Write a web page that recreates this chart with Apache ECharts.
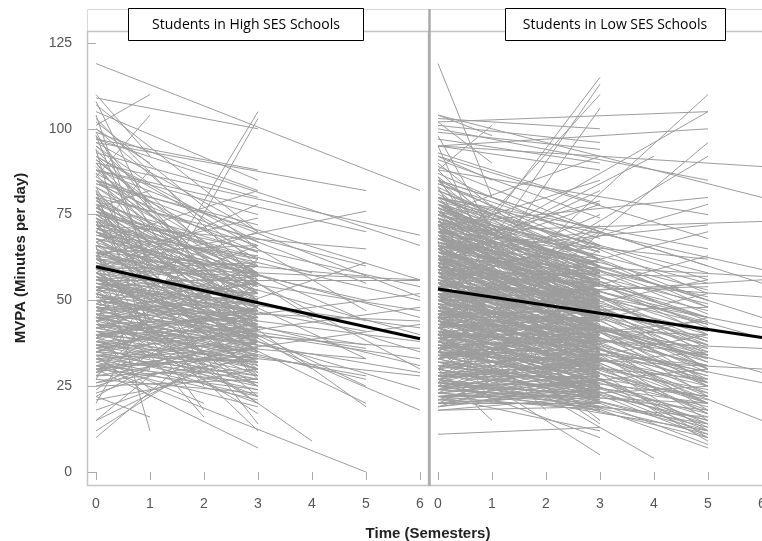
<!DOCTYPE html>
<html><head><meta charset="utf-8">
<script src="https://cdn.jsdelivr.net/npm/echarts@6/dist/echarts.min.js"></script>
<style>html,body{margin:0;padding:0;background:#fff}#c{width:762px;height:541px}</style>
</head><body><div id="c"></div>
<script>
const panelTitles = ['Students in High SES Schools', 'Students in Low SES Schools'];
const xTitle = 'Time (Semesters)';
const yTitle = 'MVPA (Minutes per day)';
const timeTicks = [0, 1, 2, 3, 4, 5, 6];
const mvpaTicks = [0, 25, 50, 75, 100, 125];

// Each pair: [MVPA at time 0, MVPA at last observed semester]
const highEnd1 = [[101,110],[86,104],[108,76],[98,60],[66,12],[25,30],[15,28],[70,88],[57,48],[90,70],[45,62],[80,53],[36,44],[62,71],[48,33],[110,92],[75,66],[52,58],[40,24],[95,84],
[104,58],[100,90],[94,40],[91,78],[87,66],[82,36],[77,82],[73,50],[68,60],[63,40],[58,66],[54,42],[49,55],[44,30],[39,50],[34,22],[29,42],[22,16]];
const highEnd2 = [[52,16],[78,40],[44,52],[92,62],[33,20],[60,18],[99,44],[83,30],[71,58],[64,25],[56,46],[38,30]];
const highEnd3 = [[27,105],[20,103],[109,100],[105,85],[97,88],[99,82],[93,80],[88,75],[84,72],[107,70],[92,67],[81,66],[78,64],[75,62],[73,60],[86,58],[71,57],[69,56],[68,55],[66,54],[64,53],[83,52],[62,51],[60,50],[59,49],[58,48],[57,47],[77,46],[56,46],[55,45],[54,44],[80,44],[53,43],[52,42],[51,41],[76,41],[50,40],[49,39],[72,39],[48,38],[47,37],[65,37],[46,36],[45,35],[70,35],[44,34],[43,33],[62,33],[42,32],[41,31],[58,30],[40,30],[39,29],[38,28],[67,28],[37,27],[36,26],[54,25],[35,25],[34,24],[60,22],[33,22],[32,21],[50,20],[31,19],[46,17],[74,14],[57,12],[30,7],[26,40],[22,48],[18,35],[24,55],[28,62],[21,30],[12,42],[10,50],[15,38],[44,60],[38,58],[42,56],[48,66],[53,70],[63,74],[58,78],[67,82],[74,54],[79,50],[85,47],[90,45],[95,52],[100,60],[103,56],[82,36],[78,31],[72,27],[68,44],[65,48],[61,43],[56,39],[55,52],[47,50],[43,45],[40,42],[36,40],[33,36],[30,34],[29,44],[35,48],[39,53],[46,30],[52,36],[57,32],[63,29],[71,49],[76,58],[84,64],[88,50],[94,42],[98,38],[64,66],[59,61],[54,57],[50,55],[45,47],[41,38],[37,33],[34,28],[31,26],[27,23],
[79,60],[77,52],[74,48],[72,58],[70,42],[69,63],[67,50],[65,40],[63,55],[61,46],[60,35],[59,57],[57,42],[56,60],[55,38],[53,50],[52,31],[51,47],[49,43],[48,28],[47,55],[46,40],[45,25],[44,50],[43,37],[42,45],[41,22],[40,35],[39,48],[38,40],[37,20],[36,45],[35,32],[34,38],[33,27],[32,42],[31,33],[30,24],[29,38],[28,30],[76,50],[73,45],[71,62],[68,38],[66,58],[64,43],[62,60],[58,52],[54,47],[50,45],[46,52],[43,30],[40,47],[37,43],[34,32],[31,40],[28,36],[26,33],[25,27],[23,38],[83,58],[87,62],[91,55],[96,70],[102,65],[89,40],[81,48],[77,56],[74,38],[70,52]];
const highEnd4 = [[53,9],[85,45],[66,30],[76,58]];
const highEnd5 = [[96,82],[60,76],[88,70],[72,65],[35,61],[80,60],[64,57],[92,47],[55,41],[70,33],[45,27],[58,20],[75,19],[31,0],[50,37],[42,28],
[68,50],[78,44],[48,36],[62,25],[40,33],[85,55]];
const highEnd6 = [[119,82],[90,69],[97,66],[56,56],[60,56],[75,54],[40,52],[88,51],[70,45],[30,43],[55,42],[50,38],[64,35],[47,33],[80,30],[45,29],[38,28],[52,24],[58,18],[66,40],[35,48],
[72,50],[62,47],[48,44],[85,56],[43,36],[54,31]];

const lowEnd1 = [[119,80],[30,15],[104,98],[95,60],[88,101],[72,40],[60,78],[45,20],[83,55],[50,64],[35,46],[67,30],[78,70],[26,38],[55,50],[41,26],
[102,90],[98,70],[92,85],[86,62],[80,75],[74,52],[68,66],[63,45],[57,58],[52,38],[46,50],[40,30],[33,40],[28,22],[23,30]];
const lowEnd2 = [[62,30],[48,18],[85,50],[36,56]];
const lowEnd3 = [[53,115],[45,113],[58,110],[40,106],[103,100],[101,96],[99,94],[97,90],[95,88],[75,92],[70,85],[93,78],[91,74],[89,70],[60,82],[65,79],[87,66],[85,62],[84,68],[82,64],[80,60],[79,58],[11,13],[35,5],[27,10],[22,12],
[78,56],[77,62],[76,50],[75,58],[74,52],[73,61],[72,48],[71,55],[70,60],[69,46],[68,53],[67,57],[66,44],[65,51],[64,59],[63,42],[62,49],[61,54],[60,40],[59,47],[58,52],[57,38],[56,45],[55,50],[54,36],[53,43],[52,48],[51,34],[50,41],[49,46],[48,32],[47,39],[46,44],[45,30],[44,37],[43,42],[42,28],[41,35],[40,40],[39,26],[38,33],[37,38],[36,24],[35,31],[34,36],[33,22],[32,29],[31,34],[30,20],[29,27],[28,32],[27,18],[26,25],[25,30],[24,21],[23,27],[22,24],[21,19],[20,23],[19,26],[18,22],
[79,66],[76,64],[74,45],[72,63],[70,43],[68,58],[66,39],[64,55],[62,37],[60,52],[58,35],[56,50],[54,33],[52,46],[50,31],[48,44],[46,29],[44,41],[42,27],[40,38],[38,25],[36,35],[34,23],[32,33],[30,22],[28,30],[26,20],[24,28],[22,18],[20,27],
[81,54],[78,44],[75,65],[73,40],[71,51],[69,62],[67,36],[65,47],[63,58],[61,32],[59,44],[57,55],[55,30],[53,41],[51,52],[49,28],[47,39],[45,48],[43,25],[41,36],[39,45],[37,23],[35,34],[33,42],[31,21],[29,31],[27,39],[25,19],[23,29],[21,35],
[35,65],[42,72],[30,60],[28,50],[25,55],[48,70],[55,75],[62,78],[85,45],[90,52],[88,40],[80,35],[77,30],[70,25],[66,20],[60,18],[52,15],[46,14],[44,62],[38,55],[33,50],[24,44],[20,40],[19,34],
[72,57],[70,54],[68,50],[66,61],[64,48],[62,56],[60,45],[58,58],[56,42],[54,53],[52,39],[50,50],[48,37],[46,47],[44,34],[42,45],[40,32],[38,42],[36,29],[34,40],
[77,54],[76,60],[75,47],[74,57],[73,50],[72,44],[71,60],[70,47],[69,55],[68,41],[67,49],[66,56],[65,40],[64,50],[63,46],[62,53],[61,39],[60,48],[59,55],[58,42],[57,50],[56,35],[55,46],[54,52],[53,38],[52,44],[51,49],[50,36],[49,42],[48,50],[47,33],[46,40],[45,45],[44,30],[43,38],[42,47],[41,31],[40,36],[39,42],[38,28],[37,34],[36,40],[35,26],[34,32],[33,38],[32,25],[31,30],[30,36],[29,23],[28,28],[27,33],[26,22],[25,26],[24,32],[23,20],[22,27],[21,24],[20,20],[19,24],[18,19],
[78,62],[74,60],[71,45],[67,52],[64,38],[61,50],[57,45],[54,40],[51,38],[47,44],[44,36],[41,42],[37,31],[34,28],[31,26],[28,24],[25,23],[22,22],[83,60],[86,50],[82,44],[79,52],[76,42],[72,36],[69,34],[65,28],[62,24],[58,22],[55,20],[52,25],[49,22],[45,21],[42,20],[39,22],[65,70],[58,66],[50,60],[43,55],[36,50],[30,45]];
const lowEnd4 = [[40,4],[62,36],[78,50],[48,28],[60,92]];
const lowEnd5 = [[38,110],[102,105],[60,105],[95,100],[30,96],[45,92],[100,85],[72,80],[55,78],[88,75],[64,72],[50,70],[92,68],[80,65],[42,63],[70,62],[85,60],
[78,58],[75,55],[73,53],[70,51],[68,49],[66,47],[64,45],[62,43],[60,41],[58,39],[56,37],[54,35],[52,33],[50,31],[48,29],[46,27],[44,25],[42,23],[40,21],[38,19],[36,17],[34,15],[32,13],[30,11],
[80,50],[77,46],[74,42],[71,38],[68,35],[65,32],[62,29],[59,26],[56,23],[53,20],[50,17],[47,14],[44,12],[41,10],[38,8],[35,7],
[76,30],[72,26],[69,22],[66,18],[63,15],[60,12],[57,10],[54,9],
[28,35],[25,40],[22,30],[20,25],[26,45],[33,52],[40,56],[46,48],[52,54],[58,57],[36,44],[43,40],[49,36],[55,33],[61,38],[67,41],[73,44],[82,48],[24,20],[27,14],[31,22],[35,27],[39,31],[45,34],[51,28],[57,30],[63,34],[69,37],
[77,40],[75,48],[73,36],[71,45],[69,33],[67,43],[65,30],[63,40],[61,27],[59,37],[57,25],[55,34],[53,22],[51,31],[49,20],[47,28],[45,18],[43,26],[41,16],[39,24],[37,14],[35,22],[33,12],[31,20],[29,10],[27,18],[25,12],[23,16],[80,56],[74,50],[68,45],[62,38],[56,32],[50,26],[44,20],[38,15],[84,52],[78,34],[72,30],[66,25],[60,20],[54,17],[48,13],[42,11]];
const lowEnd6 = [[95,89],[104,80],[70,73],[80,59],[62,57],[50,56],[58,51],[75,45],[66,39],[40,36],[55,29],[45,26],[52,15],[35,30],[60,42],[85,55]];

// Average trajectory: [semester, MVPA]
const highMean = [[0, 59.8], [6, 38.8]];
const lowMean = [[0, 53.3], [6, 39.2]];

const highGroups = [[1, highEnd1], [2, highEnd2], [3, highEnd3], [4, highEnd4], [5, highEnd5], [6, highEnd6]];
const lowGroups = [[1, lowEnd1], [2, lowEnd2], [3, lowEnd3], [4, lowEnd4], [5, lowEnd5], [6, lowEnd6]];

function toLines(groups) {
  const out = [];
  groups.forEach(([t, pairs]) => pairs.forEach(([s, e]) => out.push({ coords: [[0, s], [t, e]] })));
  return out;
}

const chart = echarts.init(document.getElementById('c'), null, { renderer: 'canvas' });
const tickFont = { color: '#555', fontSize: 14, fontFamily: 'Liberation Sans, Arial, sans-serif' };
const grayLine = { color: '#9c9c9c', width: 1, opacity: 1 };

function xAx(gi) {
  return {
    gridIndex: gi, type: 'value', min: timeTicks[0], max: timeTicks[timeTicks.length - 1], interval: 1,
    offset: 13,
    axisLine: { show: false },
    axisTick: { show: true, length: 8, lineStyle: { color: '#aaa' } },
    axisLabel: Object.assign({ margin: 12, showMaxLabel: true, showMinLabel: true }, tickFont),
    splitLine: { show: false }
  };
}

const option = {
  animation: false,
  backgroundColor: '#fff',
  grid: [
    { left: 96, top: 43, width: 324, height: 429, containLabel: false, outerBoundsMode: 'none' },
    { left: 438, top: 43, width: 324, height: 429, containLabel: false, outerBoundsMode: 'none' }
  ],
  xAxis: [xAx(0), xAx(1)],
  yAxis: [
    {
      gridIndex: 0, type: 'value', min: mvpaTicks[0], max: mvpaTicks[mvpaTicks.length - 1], interval: 25,
      offset: 10,
      axisLine: { show: false },
      axisTick: { show: true, length: 8, lineStyle: { color: '#aaa' } },
      axisLabel: Object.assign({ margin: 14 }, tickFont),
      splitLine: { show: false }
    },
    { gridIndex: 1, type: 'value', min: 0, max: 125, show: false }
  ],
  graphic: [
    { type: 'rect', shape: { x: 87.5, y: 9.5, width: 680, height: 22 }, style: { fill: '#fff', stroke: '#d8d8d8', lineWidth: 1 }, z: -1 },
    { type: 'rect', shape: { x: 87.5, y: 31.5, width: 341, height: 454 }, style: { fill: 'none', stroke: '#c4c4c4', lineWidth: 1.5 }, z: -1 },
    { type: 'rect', shape: { x: 429, y: 31.5, width: 340, height: 454 }, style: { fill: 'none', stroke: '#c4c4c4', lineWidth: 1.5 }, z: -1 },
    { type: 'line', shape: { x1: 429.5, y1: 9, x2: 429.5, y2: 486 }, style: { stroke: '#aaa', lineWidth: 2.5 }, z: 5 },
    { type: 'rect', shape: { x: 128.5, y: 8.5, width: 235, height: 32 }, style: { fill: '#fff', stroke: '#000', lineWidth: 1 }, z: 10 },
    { type: 'text', x: 246, y: 25, style: { text: panelTitles[0], fill: '#000', font: '14px "Open Sans", sans-serif', textAlign: 'center', textVerticalAlign: 'middle' }, z: 11 },
    { type: 'rect', shape: { x: 505.5, y: 8.5, width: 220, height: 32 }, style: { fill: '#fff', stroke: '#000', lineWidth: 1 }, z: 10 },
    { type: 'text', x: 615, y: 25, style: { text: panelTitles[1], fill: '#000', font: '14px "Open Sans", sans-serif', textAlign: 'center', textVerticalAlign: 'middle' }, z: 11 },
    { type: 'text', x: 428, y: 534, style: { text: xTitle, fill: '#222', font: 'bold 15px "Liberation Sans", Arial, sans-serif', textAlign: 'center', textVerticalAlign: 'middle' }, z: 11 },
    { type: 'text', x: 21, y: 258, rotation: Math.PI / 2, style: { text: yTitle, fill: '#222', font: 'bold 15px "Liberation Sans", Arial, sans-serif', textAlign: 'center', textVerticalAlign: 'middle' }, z: 11 }
  ],
  series: [
    { type: 'lines', coordinateSystem: 'cartesian2d', xAxisIndex: 0, yAxisIndex: 0, silent: true, lineStyle: grayLine, data: toLines(highGroups), z: 2 },
    { type: 'lines', coordinateSystem: 'cartesian2d', xAxisIndex: 1, yAxisIndex: 1, silent: true, lineStyle: grayLine, data: toLines(lowGroups), z: 2 },
    { type: 'line', xAxisIndex: 0, yAxisIndex: 0, data: highMean, showSymbol: false, symbol: 'none', lineStyle: { color: '#000', width: 3 }, z: 4, silent: true },
    { type: 'line', xAxisIndex: 1, yAxisIndex: 1, data: lowMean, showSymbol: false, symbol: 'none', lineStyle: { color: '#000', width: 3 }, z: 4, silent: true }
  ]
};
chart.setOption(option);
</script></body></html>
